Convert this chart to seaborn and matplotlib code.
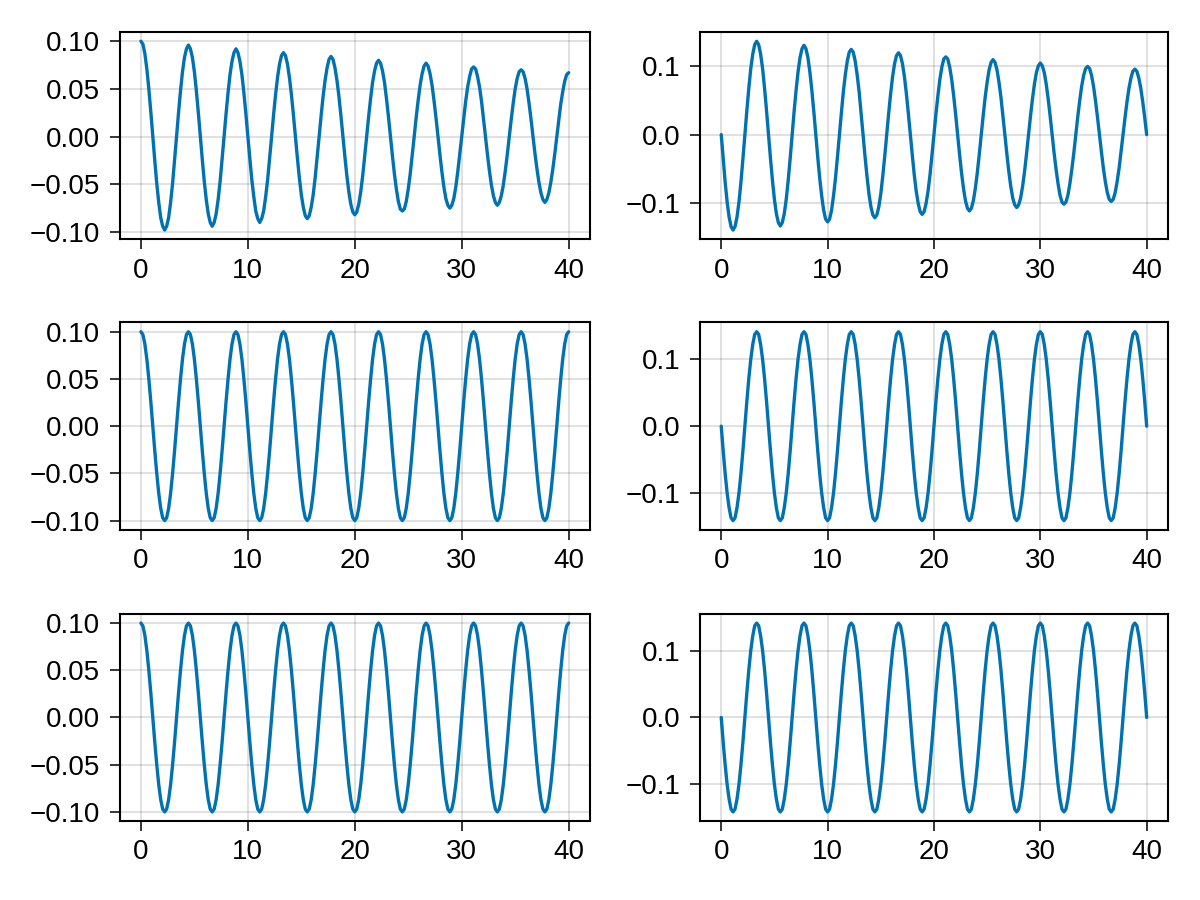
import numpy as np
import matplotlib
matplotlib.use("Agg")
import matplotlib.pyplot as plt
from matplotlib.ticker import MultipleLocator
import seaborn as sns

# Oscillator runs: 24 samples per swing, 9 swings over t = 0..40
T_END = 40.0

# top row: the run that loses energy
pos_damped = [
    0.100, 0.097, 0.087, 0.071, 0.050, 0.026, 0.0, -0.025, -0.049, -0.069, -0.085, -0.094,
    -0.098, -0.094, -0.085, -0.069, -0.049, -0.025, 0.0, 0.025, 0.048, 0.068, 0.083, 0.092,
    0.096, 0.092, 0.083, 0.068, 0.048, 0.025, 0.0, -0.024, -0.047, -0.066, -0.081, -0.090,
    -0.094, -0.090, -0.081, -0.066, -0.047, -0.024, 0.0, 0.024, 0.046, 0.065, 0.079, 0.088,
    0.092, 0.088, 0.079, 0.065, 0.046, 0.024, 0.0, -0.023, -0.045, -0.063, -0.078, -0.086,
    -0.090, -0.086, -0.078, -0.063, -0.045, -0.023, 0.0, 0.023, 0.044, 0.062, 0.076, 0.085,
    0.088, 0.085, 0.076, 0.062, 0.044, 0.023, 0.0, -0.022, -0.043, -0.061, -0.074, -0.083,
    -0.086, -0.083, -0.074, -0.061, -0.043, -0.022, 0.0, 0.022, 0.042, 0.059, 0.072, 0.081,
    0.084, 0.081, 0.072, 0.059, 0.042, 0.022, 0.0, -0.021, -0.041, -0.058, -0.071, -0.079,
    -0.082, -0.079, -0.071, -0.058, -0.041, -0.021, 0.0, 0.021, 0.040, 0.057, 0.069, 0.077,
    0.080, 0.077, 0.069, 0.057, 0.040, 0.021, 0.0, -0.020, -0.039, -0.055, -0.068, -0.076,
    -0.078, -0.076, -0.068, -0.055, -0.039, -0.020, 0.0, 0.020, 0.038, 0.054, 0.066, 0.074,
    0.077, 0.074, 0.066, 0.054, 0.038, 0.020, 0.0, -0.019, -0.037, -0.053, -0.065, -0.072,
    -0.075, -0.072, -0.065, -0.053, -0.037, -0.019, 0.0, 0.019, 0.037, 0.052, 0.063, 0.071,
    0.073, 0.071, 0.063, 0.052, 0.037, 0.019, 0.0, -0.019, -0.036, -0.051, -0.062, -0.069,
    -0.072, -0.069, -0.062, -0.051, -0.036, -0.019, 0.0, 0.018, 0.035, 0.050, 0.061, 0.068,
    0.070, 0.068, 0.061, 0.050, 0.035, 0.018, 0.0, -0.018, -0.034, -0.048, -0.059, -0.066,
    -0.069, -0.066, -0.059, -0.048, -0.034, -0.018, 0.0, 0.017, 0.034, 0.047, 0.058, 0.065,
    0.067,
]
vel_damped = [
    0.0, -0.036, -0.070, -0.099, -0.121, -0.135, -0.140, -0.135, -0.121, -0.099, -0.070, -0.036,
    0.0, 0.035, 0.068, 0.097, 0.118, 0.132, 0.137, 0.132, 0.118, 0.097, 0.068, 0.035,
    0.0, -0.035, -0.067, -0.095, -0.116, -0.129, -0.134, -0.129, -0.116, -0.095, -0.067, -0.035,
    0.0, 0.034, 0.065, 0.092, 0.113, 0.126, 0.131, 0.126, 0.113, 0.092, 0.065, 0.034,
    0.0, -0.033, -0.064, -0.090, -0.111, -0.124, -0.128, -0.124, -0.111, -0.090, -0.064, -0.033,
    0.0, 0.032, 0.063, 0.088, 0.108, 0.121, 0.125, 0.121, 0.108, 0.088, 0.063, 0.032,
    0.0, -0.032, -0.061, -0.087, -0.106, -0.118, -0.122, -0.118, -0.106, -0.087, -0.061, -0.032,
    0.0, 0.031, 0.060, 0.085, 0.104, 0.116, 0.120, 0.116, 0.104, 0.085, 0.060, 0.031,
    0.0, -0.030, -0.059, -0.083, -0.101, -0.113, -0.117, -0.113, -0.101, -0.083, -0.059, -0.030,
    0.0, 0.030, 0.057, 0.081, 0.099, 0.111, 0.114, 0.111, 0.099, 0.081, 0.057, 0.030,
    0.0, -0.029, -0.056, -0.079, -0.097, -0.108, -0.112, -0.108, -0.097, -0.079, -0.056, -0.029,
    0.0, 0.028, 0.055, 0.077, 0.095, 0.106, 0.110, 0.106, 0.095, 0.077, 0.055, 0.028,
    0.0, -0.028, -0.054, -0.076, -0.093, -0.103, -0.107, -0.103, -0.093, -0.076, -0.054, -0.028,
    0.0, 0.027, 0.052, 0.074, 0.091, 0.101, 0.105, 0.101, 0.091, 0.074, 0.052, 0.027,
    0.0, -0.027, -0.051, -0.072, -0.089, -0.099, -0.102, -0.099, -0.089, -0.072, -0.051, -0.027,
    0.0, 0.026, 0.050, 0.071, 0.087, 0.097, 0.100, 0.097, 0.087, 0.071, 0.050, 0.026,
    0.0, -0.025, -0.049, -0.069, -0.085, -0.095, -0.098, -0.095, -0.085, -0.069, -0.049, -0.025,
    0.0, 0.025, 0.048, 0.068, 0.083, 0.093, 0.096, 0.093, 0.083, 0.068, 0.048, 0.025,
    0.0,
]

# middle row: energy kept, amplitude stays at 0.1 / 0.141
pos_mid = [
    0.100, 0.097, 0.087, 0.071, 0.050, 0.026, 0.0, -0.026, -0.050, -0.071, -0.087, -0.097,
    -0.100, -0.097, -0.087, -0.071, -0.050, -0.026, 0.0, 0.026, 0.050, 0.071, 0.087, 0.097,
    0.100, 0.097, 0.087, 0.071, 0.050, 0.026, 0.0, -0.026, -0.050, -0.071, -0.087, -0.097,
    -0.100, -0.097, -0.087, -0.071, -0.050, -0.026, 0.0, 0.026, 0.050, 0.071, 0.087, 0.097,
    0.100, 0.097, 0.087, 0.071, 0.050, 0.026, 0.0, -0.026, -0.050, -0.071, -0.087, -0.097,
    -0.100, -0.097, -0.087, -0.071, -0.050, -0.026, 0.0, 0.026, 0.050, 0.071, 0.087, 0.097,
    0.100, 0.097, 0.087, 0.071, 0.050, 0.026, 0.0, -0.026, -0.050, -0.071, -0.087, -0.097,
    -0.100, -0.097, -0.087, -0.071, -0.050, -0.026, 0.0, 0.026, 0.050, 0.071, 0.087, 0.097,
    0.100, 0.097, 0.087, 0.071, 0.050, 0.026, 0.0, -0.026, -0.050, -0.071, -0.087, -0.097,
    -0.100, -0.097, -0.087, -0.071, -0.050, -0.026, 0.0, 0.026, 0.050, 0.071, 0.087, 0.097,
    0.100, 0.097, 0.087, 0.071, 0.050, 0.026, 0.0, -0.026, -0.050, -0.071, -0.087, -0.097,
    -0.100, -0.097, -0.087, -0.071, -0.050, -0.026, 0.0, 0.026, 0.050, 0.071, 0.087, 0.097,
    0.100, 0.097, 0.087, 0.071, 0.050, 0.026, 0.0, -0.026, -0.050, -0.071, -0.087, -0.097,
    -0.100, -0.097, -0.087, -0.071, -0.050, -0.026, 0.0, 0.026, 0.050, 0.071, 0.087, 0.097,
    0.100, 0.097, 0.087, 0.071, 0.050, 0.026, 0.0, -0.026, -0.050, -0.071, -0.087, -0.097,
    -0.100, -0.097, -0.087, -0.071, -0.050, -0.026, 0.0, 0.026, 0.050, 0.071, 0.087, 0.097,
    0.100, 0.097, 0.087, 0.071, 0.050, 0.026, 0.0, -0.026, -0.050, -0.071, -0.087, -0.097,
    -0.100, -0.097, -0.087, -0.071, -0.050, -0.026, 0.0, 0.026, 0.050, 0.071, 0.087, 0.097,
    0.100,
]
vel_mid = [
    0.0, -0.037, -0.071, -0.100, -0.122, -0.137, -0.141, -0.137, -0.122, -0.100, -0.071, -0.037,
    0.0, 0.037, 0.071, 0.100, 0.122, 0.137, 0.141, 0.137, 0.122, 0.100, 0.071, 0.037,
    0.0, -0.037, -0.071, -0.100, -0.122, -0.137, -0.141, -0.137, -0.122, -0.100, -0.071, -0.037,
    0.0, 0.037, 0.071, 0.100, 0.122, 0.137, 0.141, 0.137, 0.122, 0.100, 0.071, 0.037,
    0.0, -0.037, -0.071, -0.100, -0.122, -0.137, -0.141, -0.137, -0.122, -0.100, -0.071, -0.037,
    0.0, 0.037, 0.071, 0.100, 0.122, 0.137, 0.141, 0.137, 0.122, 0.100, 0.071, 0.037,
    0.0, -0.037, -0.071, -0.100, -0.122, -0.137, -0.141, -0.137, -0.122, -0.100, -0.071, -0.037,
    0.0, 0.037, 0.071, 0.100, 0.122, 0.137, 0.141, 0.137, 0.122, 0.100, 0.071, 0.037,
    0.0, -0.037, -0.071, -0.100, -0.122, -0.137, -0.141, -0.137, -0.122, -0.100, -0.071, -0.037,
    0.0, 0.037, 0.071, 0.100, 0.122, 0.137, 0.141, 0.137, 0.122, 0.100, 0.071, 0.037,
    0.0, -0.037, -0.071, -0.100, -0.122, -0.137, -0.141, -0.137, -0.122, -0.100, -0.071, -0.037,
    0.0, 0.037, 0.071, 0.100, 0.122, 0.137, 0.141, 0.137, 0.122, 0.100, 0.071, 0.037,
    0.0, -0.037, -0.071, -0.100, -0.122, -0.137, -0.141, -0.137, -0.122, -0.100, -0.071, -0.037,
    0.0, 0.037, 0.071, 0.100, 0.122, 0.137, 0.141, 0.137, 0.122, 0.100, 0.071, 0.037,
    0.0, -0.037, -0.071, -0.100, -0.122, -0.137, -0.141, -0.137, -0.122, -0.100, -0.071, -0.037,
    0.0, 0.037, 0.071, 0.100, 0.122, 0.137, 0.141, 0.137, 0.122, 0.100, 0.071, 0.037,
    0.0, -0.037, -0.071, -0.100, -0.122, -0.137, -0.141, -0.137, -0.122, -0.100, -0.071, -0.037,
    0.0, 0.037, 0.071, 0.100, 0.122, 0.137, 0.141, 0.137, 0.122, 0.100, 0.071, 0.037,
    0.0,
]

# bottom row looks the same as the middle one
pos_bot = list(pos_mid)
vel_bot = list(vel_mid)

LINE_COLOR = "#0072b2"

sns.set_theme(style="white")
plt.rcParams["font.family"] = ["Liberation Sans", "DejaVu Sans"]

t = np.linspace(0, T_END, len(pos_mid))

fig = plt.figure(figsize=(12, 9), dpi=100)

col_left = [0.0996, 0.5833]
col_width = [0.3921, 0.3900]
row_bottom = [0.7339, 0.4111, 0.0874]
row_height = 0.2308

panels = [(pos_damped, vel_damped), (pos_mid, vel_mid), (pos_bot, vel_bot)]

for r, (pos, vel) in enumerate(panels):
    for c, vals in enumerate((pos, vel)):
        ax = fig.add_axes([col_left[c], row_bottom[r], col_width[c], row_height])
        sns.lineplot(x=t, y=vals, ax=ax, color=LINE_COLOR, linewidth=2.4)
        ax.xaxis.set_major_locator(MultipleLocator(10))
        ax.yaxis.set_major_locator(MultipleLocator(0.05 if c == 0 else 0.1))
        for s in ax.spines.values():
            s.set_color("black")
            s.set_linewidth(1.5)
        # the white style switches tick marks off, turn them back on
        ax.tick_params(axis="both", direction="out", length=7, width=1.1,
                       color="black", labelsize=20, labelcolor="black",
                       bottom=True, left=True)
        ax.tick_params(axis="x", pad=6)
        ax.tick_params(axis="y", pad=7)
        # alpha has to go in separately, the tick grid alpha overrides rgba
        ax.grid(True, color="black", alpha=0.12, linewidth=1.4)
        ax.set_axisbelow(True)
        ax.set_xlabel("")
        ax.set_ylabel("")

fig.savefig("out.png", dpi=100)
